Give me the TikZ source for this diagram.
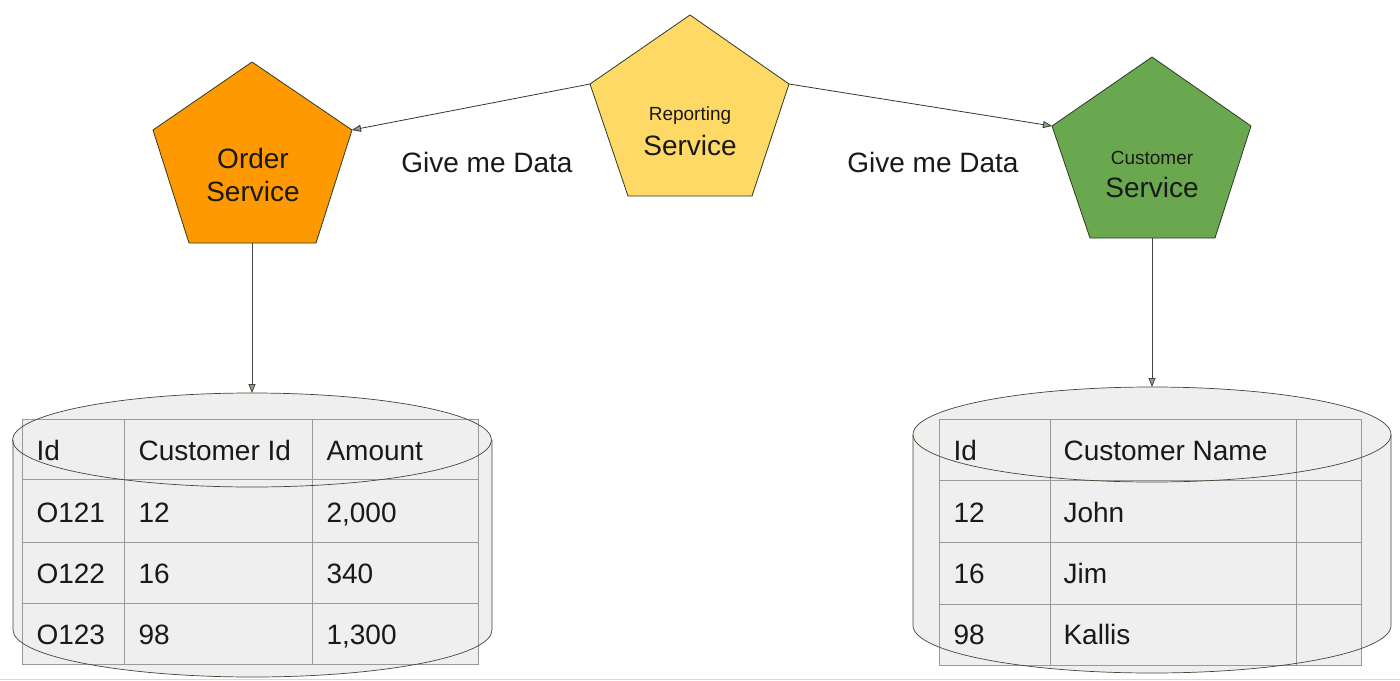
\documentclass[tikz,border=0pt]{standalone}
\usepackage{fontspec}
\setmainfont{Liberation Sans}
\usetikzlibrary{arrows.meta}
\definecolor{orderc}{HTML}{FF9900}
\definecolor{reportc}{HTML}{FFD966}
\definecolor{custc}{HTML}{6AA84F}
\definecolor{edgec}{HTML}{2E3A28}
\definecolor{dbfill}{HTML}{EFEFEF}
\definecolor{gridc}{HTML}{999999}
\definecolor{cylc}{HTML}{3C4A34}
\begin{document}
\begin{tikzpicture}[x=1pt,y=-1pt,
  penta/.style={draw=edgec,line width=0.8pt,line join=miter},
  conn/.style={draw=edgec,line width=0.8pt,-{Triangle[length=9pt,width=7pt,fill=gridc]}},
  downconn/.style={draw=edgec!80!gray,line width=0.8pt,-{Triangle[length=9pt,width=7pt,fill=gridc]}},
  big/.style={font=\fontsize{28}{32}\selectfont,text=black!90},
  small/.style={font=\fontsize{19}{22}\selectfont,text=black!90},
  cell/.style={font=\fontsize{28}{32}\selectfont,text=black!90,anchor=base west},
  lbl/.style={font=\fontsize{28}{32}\selectfont,text=black!90},
  gridline/.style={draw=gridc,line width=1pt},
  cyl/.style={draw=cylc,line width=0.7pt}
]
\useasboundingbox (0,0) rectangle (1400,680);
\fill[white] (0,0) rectangle (1400,680);
\draw[black!15,line width=1pt] (0,679) -- (1400,679);

% ---------- pentagon coordinates ----------
\coordinate (oT) at (252,62);   \coordinate (oL) at (153,130); \coordinate (oR) at (352,130);
\coordinate (oBL) at (189,243); \coordinate (oBR) at (316,243); \coordinate (oB) at (252,243);
\coordinate (rT) at (690,15);   \coordinate (rL) at (590,84);  \coordinate (rR) at (789,84);
\coordinate (rBL) at (628,196); \coordinate (rBR) at (752,196);
\coordinate (cT) at (1152,57);  \coordinate (cL) at (1052,126); \coordinate (cR) at (1251,126);
\coordinate (cBL) at (1090,238); \coordinate (cBR) at (1215,238); \coordinate (cB) at (1152,238);

% ---------- cylinders (fill) ----------
\fill[dbfill] (13,440) -- (13,630) arc[start angle=180,end angle=0,x radius=239.5,y radius=47] -- (492,440) arc[start angle=0,end angle=-180,x radius=239.5,y radius=47] -- cycle;
\fill[dbfill] (913,434.5) -- (913,625.5) arc[start angle=180,end angle=0,x radius=239,y radius=47.5] -- (1391,434.5) arc[start angle=0,end angle=-180,x radius=239,y radius=47.5] -- cycle;

% ---------- tables ----------
\filldraw[gridline,fill=dbfill] (22,419) rectangle (478,664);
\foreach \y in {479,542,603} \draw[gridline] (22,\y) -- (478,\y);
\foreach \x in {124,312} \draw[gridline] (\x,419) -- (\x,664);
\filldraw[gridline,fill=dbfill] (939,419) rectangle (1361,665);
\foreach \y in {480,542,604} \draw[gridline] (939,\y) -- (1361,\y);
\foreach \x in {1050,1296} \draw[gridline] (\x,419) -- (\x,665);

% ---------- cylinders (outline) ----------
\draw[cyl] (252,440) ellipse[x radius=239.5,y radius=47];
\draw[cyl] (13,440) -- (13,630) arc[start angle=180,end angle=0,x radius=239.5,y radius=47] -- (492,440);
\coordinate (oDB) at (252,393);
\draw[cyl] (1152,434.5) ellipse[x radius=239,y radius=47.5];
\draw[cyl] (913,434.5) -- (913,625.5) arc[start angle=180,end angle=0,x radius=239,y radius=47.5] -- (1391,434.5);
\coordinate (cDB) at (1152,387);

% ---------- table texts ----------
\node[cell] (t1a) at (33,460) {Id};
\node[cell] (t1b) at (135,460) {Customer Id};
\node[cell] (t1c) at (323,460) {Amount};
\node[cell] (t1d) at (33,522) {O121};
\node[cell] (t1e) at (135,522) {12};
\node[cell] (t1f) at (323,522) {2,000};
\node[cell] (t1g) at (33,583) {O122};
\node[cell] (t1h) at (135,583) {16};
\node[cell] (t1i) at (323,583) {340};
\node[cell] (t1j) at (33,644) {O123};
\node[cell] (t1k) at (135,644) {98};
\node[cell] (t1l) at (323,644) {1,300};

\node[cell] (t2a) at (950,460) {Id};
\node[cell] (t2b) at (1060,460) {Customer Name};
\node[cell] (t2d) at (950,522) {12};
\node[cell] (t2e) at (1060,522) {John};
\node[cell] (t2g) at (950,583) {16};
\node[cell] (t2h) at (1060,583) {Jim};
\node[cell] (t2j) at (950,644) {98};
\node[cell] (t2k) at (1060,644) {Kallis};

% ---------- pentagons ----------
\filldraw[penta,fill=orderc] (oT) -- (oR) -- (oBR) -- (oBL) -- (oL) -- cycle;
\filldraw[penta,fill=reportc] (rT) -- (rR) -- (rBR) -- (rBL) -- (rL) -- cycle;
\filldraw[penta,fill=custc] (cT) -- (cR) -- (cBR) -- (cBL) -- (cL) -- cycle;

\node[big] (o1) at (253,158) {Order};
\node[big] (o2) at (253,191) {Service};
\node[small] (r1) at (690,116) {Reporting};
\node[big] (r2) at (690,145) {Service};
\node[small] (c1) at (1152,158) {Customer};
\node[big] (c2) at (1152,187) {Service};

% ---------- connectors ----------
\draw[conn] (rL) -- (oR);
\draw[conn] (rR) -- (cL);
\draw[downconn] (oB) -- (oDB);
\draw[downconn] (cB) -- (cDB);

\node[lbl] (g1) at (487,162) {Give me Data};
\node[lbl] (g2) at (933,162) {Give me Data};
\end{tikzpicture}
\end{document}
